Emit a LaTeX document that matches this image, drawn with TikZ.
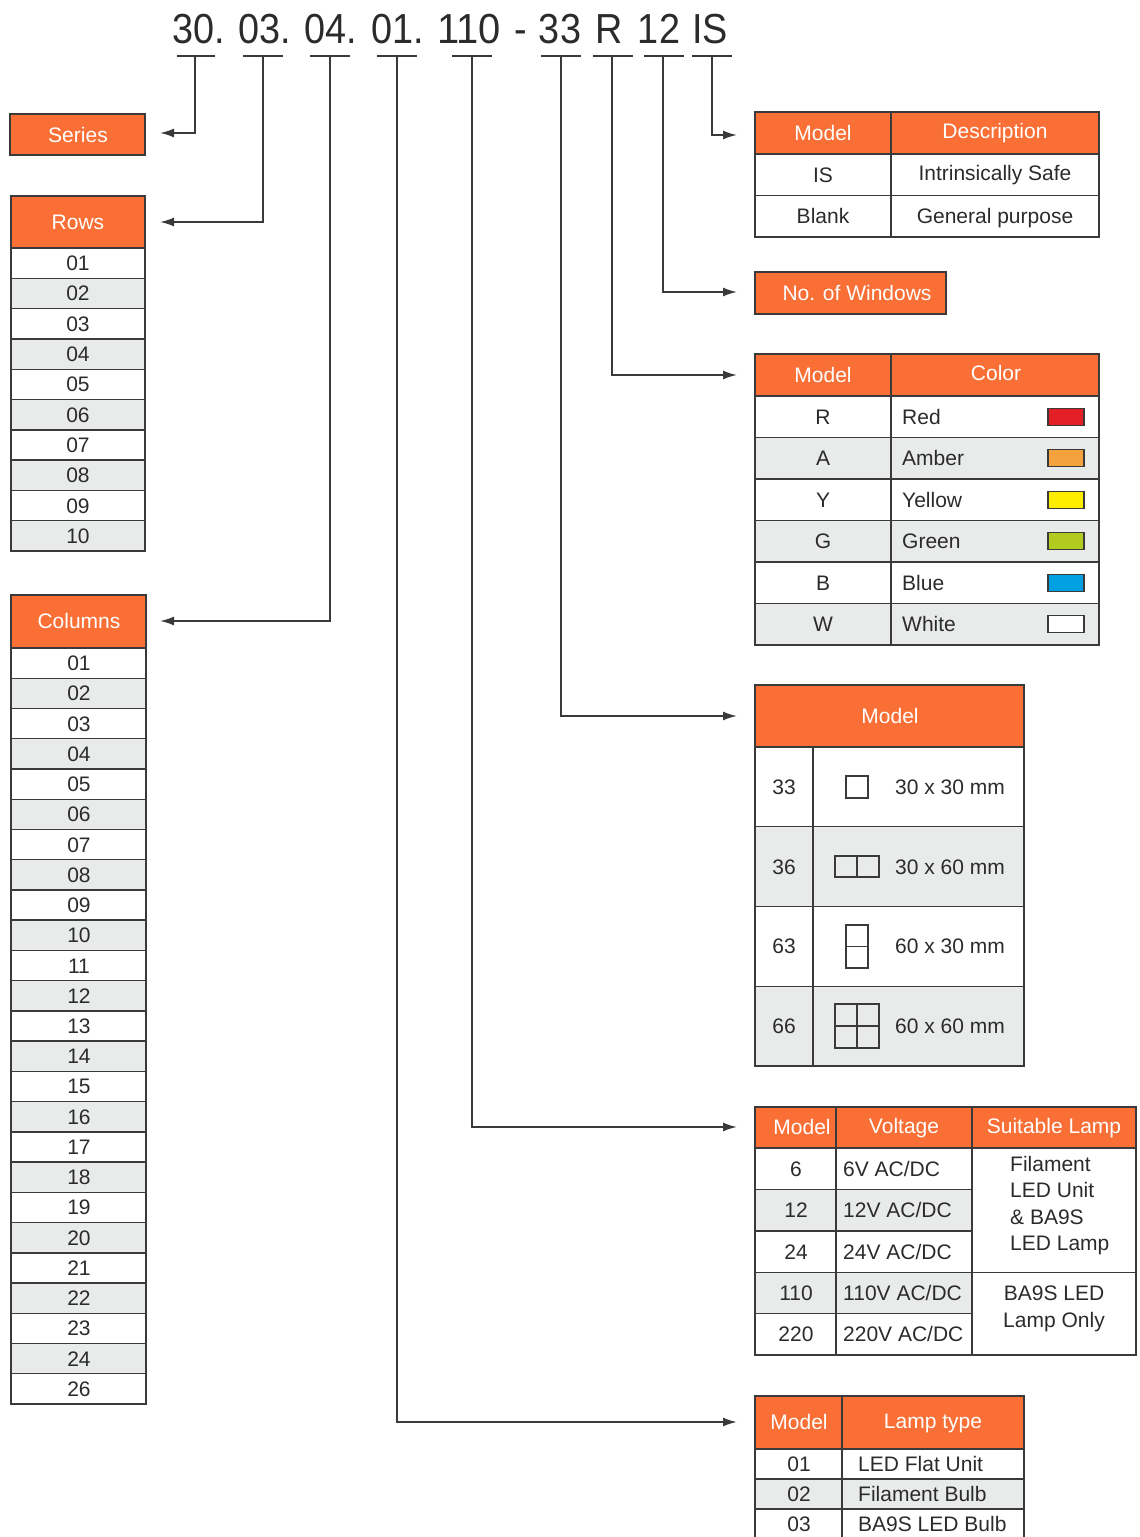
\documentclass[tikz,border=0pt]{standalone}
\usepackage{fontspec}
\usepackage{graphicx}
\setmainfont{Liberation Sans}
\usetikzlibrary{arrows.meta}
\definecolor{org}{HTML}{F96F36}
\definecolor{rg}{HTML}{E9EAEA}
\definecolor{bd}{HTML}{3A3A3A}
\definecolor{tx}{HTML}{2B2B2B}
\definecolor{swR}{HTML}{E31E24}
\definecolor{swA}{HTML}{F4A23D}
\definecolor{swY}{HTML}{FFED00}
\definecolor{swG}{HTML}{B1CB1F}
\definecolor{swB}{HTML}{00A0E3}
\definecolor{swW}{HTML}{FFFFFF}
\begin{document}
\begin{tikzpicture}[x=1pt,y=-1pt,
  cell/.style={draw=bd,line width=1.4pt},
  txt/.style={text=tx,font=\fontsize{21}{26.5}\selectfont,inner sep=0pt,text height=15pt,text depth=0pt},
  wtxt/.style={txt,text=white},
  conn/.style={draw=bd,line width=1.8pt,-{Latex[length=14pt,width=9pt]}},
  uline/.style={draw=bd,line width=1.6pt},
  tok/.style={text=tx,font=\fontsize{42}{42}\selectfont,inner sep=0pt,anchor=base},
  icon/.style={draw=bd,line width=1.2pt}
]
\useasboundingbox (0,0) rectangle (1140,1537);

% ---------- header code ----------
\node[tok] (t30) at (199,43) {\scalebox{0.9}[1]{30.}};
\node[tok] (t03) at (265,43) {\scalebox{0.9}[1]{03.}};
\node[tok] (t04) at (331,43) {\scalebox{0.9}[1]{04.}};
\node[tok] (t01) at (398,43) {\scalebox{0.9}[1]{01.}};
\node[tok] (t110) at (469,43) {\scalebox{0.95}[1]{110}};
\node[tok] (tdash) at (521,43) {\scalebox{0.9}[1]{-}};
\node[tok] (t33) at (560,43) {\scalebox{0.9}[1]{33}};
\node[tok] (tR) at (609,43) {\scalebox{0.9}[1]{R}};
\node[tok] (t12) at (659,43) {\scalebox{0.9}[1]{12}};
\node[tok] (tIS) at (710,43) {\scalebox{0.9}[1]{IS}};

\draw[uline] (177,56) -- (215,56);
\draw[uline] (243,56) -- (283,56);
\draw[uline] (310,56) -- (350,56);
\draw[uline] (377,56) -- (417,56);
\draw[uline] (452,56) -- (492,56);
\draw[uline] (541,56) -- (581,56);
\draw[uline] (593,56) -- (633,56);
\draw[uline] (644,56) -- (684,56);
\draw[uline] (692,56) -- (732,56);

\coordinate (u30) at (195,56);
\coordinate (u03) at (263,56);
\coordinate (u04) at (330,56);
\coordinate (u01) at (397,56);
\coordinate (u110) at (472,56);
\coordinate (u33) at (561,56);
\coordinate (uR) at (612,56);
\coordinate (u12) at (663,56);
\coordinate (uIS) at (712,56);

\coordinate (aSer) at (160,133);
\coordinate (aRows) at (160,222);
\coordinate (aCols) at (160,621);
\coordinate (aLamp) at (737,1422);
\coordinate (aVolt) at (737,1127);
\coordinate (aSize) at (737,716);
\coordinate (aCol) at (737,375);
\coordinate (aWin) at (737,292);
\coordinate (aDesc) at (737,135);

\draw[conn] (u30) |- (aSer);
\draw[conn] (u03) |- (aRows);
\draw[conn] (u04) |- (aCols);
\draw[conn] (u01) |- (aLamp);
\draw[conn] (u110) |- (aVolt);
\draw[conn] (u33) |- (aSize);
\draw[conn] (uR) |- (aCol);
\draw[conn] (u12) |- (aWin);
\draw[conn] (uIS) |- (aDesc);

% ---------- Series ----------
\node[draw=bd,line width=1.4pt,fill=org,minimum width=135pt,minimum height=41pt,inner sep=0pt] (series) at (77.5,134.5) {};
\node[wtxt] (seriesT) at (78,134.5) {Series};

% ---------- Rows ----------
\fill[org] (11,196) rectangle (145,248);
\node[wtxt] (rowsT) at (78,222) {Rows};
\foreach \t [count=\k from 0] in {01,02,03,04,05,06,07,08,09,10}{
  \pgfmathsetmacro\ya{248+30.3*\k}
  \pgfmathsetmacro\yb{\ya+30.3}
  \ifodd\k \fill[rg] (11,\ya) rectangle (145,\yb); \fi
  \draw[cell] (11,\ya) -- (145,\ya);
  \node[txt] (row\k) at (78,{(\ya+\yb)/2}) {\t};
}
\draw[cell] (11,196) rectangle (145,551);

% ---------- Columns ----------
\fill[org] (11,595) rectangle (146,648);
\node[wtxt] (colsT) at (79,621) {Columns};
\foreach \t [count=\k from 0] in {01,02,03,04,05,06,07,08,09,10,11,12,13,14,15,16,17,18,19,20,21,22,23,24,26}{
  \pgfmathsetmacro\ya{648+30.24*\k}
  \pgfmathsetmacro\yb{\ya+30.24}
  \ifodd\k \fill[rg] (11,\ya) rectangle (146,\yb); \fi
  \draw[cell] (11,\ya) -- (146,\ya);
  \node[txt] (col\k) at (79,{(\ya+\yb)/2}) {\t};
}
\draw[cell] (11,595) rectangle (146,1404);

% ---------- Description table ----------
\fill[org] (755,112) rectangle (1099,154);
\draw[cell] (755,112) rectangle (1099,237);
\draw[cell] (755,154) -- (1099,154) (755,195.5) -- (1099,195.5) (891,112) -- (891,237);
\node[wtxt] (dM) at (823,133) {Model};
\node[wtxt] (dD) at (995,131) {Description};
\node[txt] (dIS) at (823,175) {IS};
\node[txt] (dISd) at (995,173) {Intrinsically Safe};
\node[txt] (dBl) at (823,216) {Blank};
\node[txt] (dBld) at (995,216) {General purpose};

% ---------- No. of Windows ----------
\node[draw=bd,line width=1.4pt,fill=org,minimum width=191pt,minimum height=42pt,inner sep=0pt] (win) at (850.5,293) {};
\node[wtxt] (winT) at (857,293) {No. of Windows};

% ---------- Color table ----------
\fill[org] (755,354) rectangle (1099,396);
\node[wtxt] (cM) at (823,375) {Model};
\node[wtxt] (cC) at (996,373) {Color};
\foreach \m/\c/\sw [count=\k from 0] in {R/Red/swR,A/Amber/swA,Y/Yellow/swY,G/Green/swG,B/Blue/swB,W/White/swW}{
  \pgfmathsetmacro\ya{396+41.5*\k}
  \pgfmathsetmacro\yb{\ya+41.5}
  \pgfmathsetmacro\ym{(\ya+\yb)/2}
  \ifodd\k \fill[rg] (755,\ya) rectangle (1099,\yb); \fi
  \draw[cell] (755,\ya) -- (1099,\ya);
  \node[txt] (cm\k) at (823,\ym) {\m};
  \node[txt,anchor=west] (cn\k) at (902,\ym) {\c};
  \draw[draw=bd,line width=1.2pt,fill=\sw] (1048,\ym-8.5) rectangle (1084,\ym+8.5);
}
\draw[cell] (755,354) rectangle (1099,645);
\draw[cell] (891,354) -- (891,645);

% ---------- Size table ----------
\fill[org] (755,685) rectangle (1024,747);
\node[wtxt] (sM) at (890,716) {Model};
\foreach \m/\d [count=\k from 0] in {33/30 x 30 mm,36/30 x 60 mm,63/60 x 30 mm,66/60 x 60 mm}{
  \pgfmathsetmacro\ya{747+79.75*\k}
  \pgfmathsetmacro\yb{\ya+79.75}
  \pgfmathsetmacro\ym{(\ya+\yb)/2}
  \ifodd\k \fill[rg] (755,\ya) rectangle (1024,\yb); \fi
  \draw[cell] (755,\ya) -- (1024,\ya);
  \node[txt] (sm\k) at (784,\ym) {\m};
  \node[txt,anchor=west] (sd\k) at (895,\ym) {\d};
}
\draw[cell] (755,685) rectangle (1024,1066);
\draw[cell] (813,747) -- (813,1066);
% icons
\draw[icon] (846,776) rectangle (868,798);
\draw[icon] (835,856) rectangle (879,877) (857,856) -- (857,877);
\draw[icon] (846,925) rectangle (868,968) (846,946.5) -- (868,946.5);
\draw[icon] (835,1004) rectangle (879,1048) (857,1004) -- (857,1048) (835,1026) -- (879,1026);

% ---------- Voltage table ----------
\fill[org] (755,1107) rectangle (1136,1148);
\node[wtxt] (vM) at (802,1127) {Model};
\node[wtxt] (vV) at (904,1126) {Voltage};
\node[wtxt] (vL) at (1054,1126) {Suitable Lamp};
\foreach \m [count=\k from 0] in {6,12,24,110,220}{
  \pgfmathsetmacro\ya{1148+41.4*\k}
  \pgfmathsetmacro\yb{\ya+41.4}
  \pgfmathsetmacro\ym{(\ya+\yb)/2}
  \ifodd\k \fill[rg] (755,\ya) rectangle (972,\yb); \fi
  \draw[cell] (755,\ya) -- (972,\ya);
  \node[txt] (vm\k) at (796,\ym) {\m};
  \node[txt,anchor=west] (vv\k) at (843,\ym) {\m V AC/DC};
}
\draw[cell] (755,1107) rectangle (1136,1355);
\draw[cell] (836,1107) -- (836,1355) (972,1107) -- (972,1355);
\draw[cell] (755,1148) -- (1136,1148) (972,1272.2) -- (1136,1272.2);
\node[txt,anchor=north west,align=left,text height=,text depth=] (vl1) at (1010,1156) {Filament\\LED Unit\\\& BA9S\\LED Lamp};
\node[txt,anchor=north,align=center,text height=,text depth=] (vl2) at (1054,1286) {BA9S LED\\Lamp Only};

% ---------- Lamp type table ----------
\fill[org] (755,1396) rectangle (1024,1449);
\node[wtxt] (lM) at (799,1422) {Model};
\node[wtxt] (lT) at (933,1421) {Lamp type};
\foreach \m/\d [count=\k from 0] in {01/LED Flat Unit,02/Filament Bulb,03/BA9S LED Bulb}{
  \pgfmathsetmacro\ya{1449+30*\k}
  \pgfmathsetmacro\yb{\ya+30}
  \pgfmathsetmacro\ym{(\ya+\yb)/2}
  \ifodd\k \fill[rg] (755,\ya) rectangle (1024,\yb); \fi
  \draw[cell] (755,\ya) -- (1024,\ya);
  \node[txt] (lm\k) at (799,\ym) {\m};
  \node[txt,anchor=west] (ld\k) at (858,\ym) {\d};
}
\draw[cell] (755,1540) -- (755,1396) -- (1024,1396) -- (1024,1540);
\draw[cell] (842,1396) -- (842,1540);
\end{tikzpicture}
\end{document}
